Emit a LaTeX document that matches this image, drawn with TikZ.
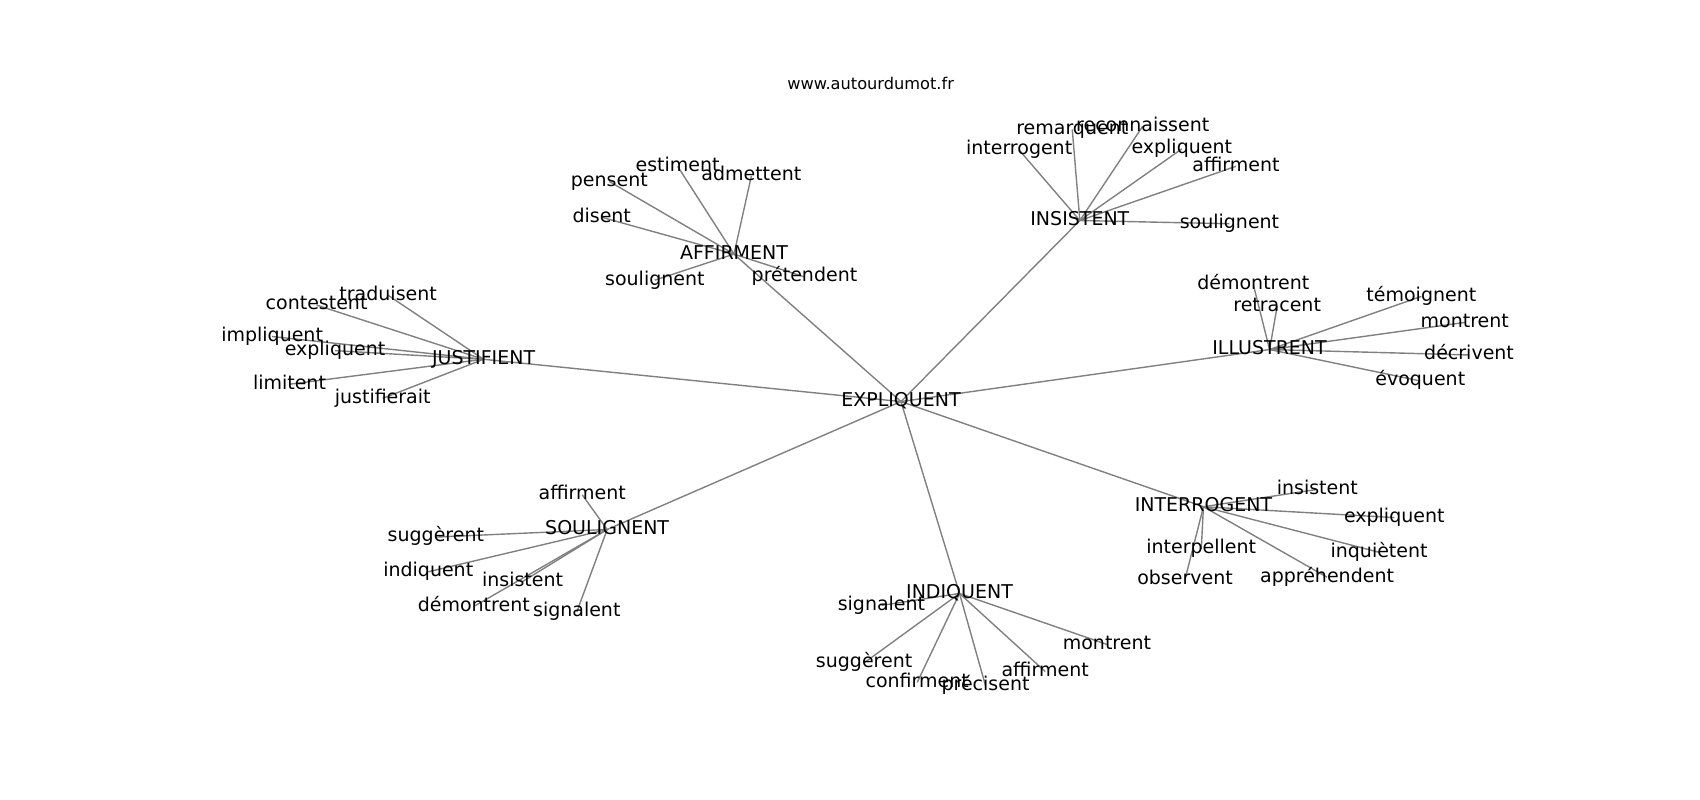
\documentclass[tikz,border=0pt]{standalone}
\usepackage{fontspec}
\setmainfont{DejaVu Sans}
\usetikzlibrary{backgrounds}
\begin{document}
\begin{tikzpicture}[x=0.5423pt,y=-0.5423pt,
  lbl/.style={font=\fontsize{9.5}{11}\selectfont, inner sep=0pt, text height=0.73em, text depth=0.24em, anchor=center},
  ttl/.style={font=\fontsize{8.1}{10}\selectfont, inner sep=0pt, text height=0.73em, text depth=0.24em},
  edge/.style={draw=gray, line width=0.7pt}]
\useasboundingbox (0,0) rectangle (1568,737.6);
\begin{scope}[yshift=-1.3pt]
\node[ttl] (title) at (803,76) {www.autourdumot.fr};
% hubs
\node[lbl] (expl) at (831,368) {EXPLIQUENT};
\node[lbl] (aff) at (677,232) {AFFIRMENT};
\node[lbl] (ins) at (996,201) {INSISTENT};
\node[lbl] (jus) at (446,329) {JUSTIFIENT};
\node[lbl] (ill) at (1171,320) {ILLUSTRENT};
\node[lbl] (sou) at (560,486) {SOULIGNENT};
\node[lbl] (ind) at (885,545) {INDIQUENT};
\node[lbl] (int) at (1110,465) {INTERROGENT};
% AFFIRMENT leaves
\node[lbl] (a1) at (625,151) {estiment};
\node[lbl] (a2) at (562,165) {pensent};
\node[lbl] (a3) at (693,160) {admettent};
\node[lbl] (a4) at (555,198) {disent};
\node[lbl] (a5) at (604,256) {soulignent};
\node[lbl] (a6) at (742,253) {prétendent};
% INSISTENT leaves
\node[lbl] (i1) at (989,117) {remarquent};
\node[lbl] (i2) at (1054,114) {reconnaissent};
\node[lbl] (i3) at (940,136) {interrogent};
\node[lbl] (i4) at (1090,135) {expliquent};
\node[lbl] (i5) at (1140,151) {affirment};
\node[lbl] (i6) at (1134,204) {soulignent};
% JUSTIFIENT leaves
\node[lbl] (j1) at (358,270) {traduisent};
\node[lbl] (j2) at (292,279) {contestent};
\node[lbl] (j3) at (251,308) {impliquent};
\node[lbl] (j4) at (309,321) {expliquent};
\node[lbl] (j5) at (267,352) {limitent};
\node[lbl] (j6) at (353,365) {justifierait};
% ILLUSTRENT leaves
\node[lbl] (l1) at (1156,260) {démontrent};
\node[lbl] (l2) at (1178,280) {retracent};
\node[lbl] (l3) at (1311,271) {témoignent};
\node[lbl] (l4) at (1351,295) {montrent};
\node[lbl] (l5) at (1355,325) {décrivent};
\node[lbl] (l6) at (1310,349) {évoquent};
% SOULIGNENT leaves
\node[lbl] (s1) at (537,454) {affirment};
\node[lbl] (s2) at (402,493) {suggèrent};
\node[lbl] (s3) at (395,525) {indiquent};
\node[lbl] (s4) at (482,534) {insistent};
\node[lbl] (s5) at (437,557) {démontrent};
\node[lbl] (s6) at (532,562) {signalent};
% INDIQUENT leaves
\node[lbl] (d1) at (813,556) {signalent};
\node[lbl] (d2) at (797,609) {suggèrent};
\node[lbl] (d3) at (846,627) {confirment};
\node[lbl] (d4) at (909,630) {précisent};
\node[lbl] (d5) at (964,617) {affirment};
\node[lbl] (d6) at (1021,592) {montrent};
% INTERROGENT leaves
\node[lbl] (n1) at (1215,449) {insistent};
\node[lbl] (n2) at (1286,475) {expliquent};
\node[lbl] (n3) at (1108,504) {interpellent};
\node[lbl] (n4) at (1093,532) {observent};
\node[lbl] (n5) at (1272,507) {inquiètent};
\node[lbl] (n6) at (1224,530) {appréhendent};
\end{scope}
\begin{scope}[on background layer]
\foreach \h in {aff,ins,jus,ill,sou,ind,int}
  \draw[edge] (expl.center) -- (\h.center);
\foreach \l in {a1,a2,a3,a4,a5,a6} \draw[edge] (aff.center) -- (\l.center);
\foreach \l in {i1,i2,i3,i4,i5,i6} \draw[edge] (ins.center) -- (\l.center);
\foreach \l in {j1,j2,j3,j4,j5,j6} \draw[edge] (jus.center) -- (\l.center);
\foreach \l in {l1,l2,l3,l4,l5,l6} \draw[edge] (ill.center) -- (\l.center);
\foreach \l in {s1,s2,s3,s4,s5,s6} \draw[edge] (sou.center) -- (\l.center);
\foreach \l in {d1,d2,d3,d4,d5,d6} \draw[edge] (ind.center) -- (\l.center);
\foreach \l in {n1,n2,n3,n4,n5,n6} \draw[edge] (int.center) -- (\l.center);
\end{scope}
\end{tikzpicture}
\end{document}
